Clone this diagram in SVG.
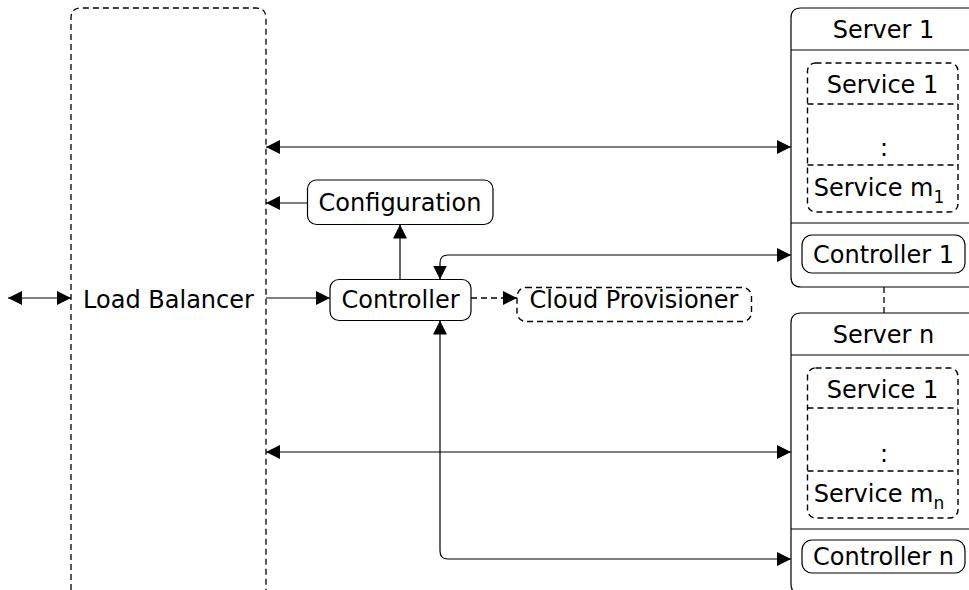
<svg xmlns="http://www.w3.org/2000/svg" width="969" height="590" viewBox="0 0 969 590">
<style>
text{font-family:"DejaVu Sans",sans-serif;font-size:24px;fill:#000;text-anchor:middle}
.box{fill:#fff;stroke:#000;stroke-width:1.2}
.dbox{fill:none;stroke:#000;stroke-width:1.4;stroke-dasharray:6 4}
.ln{fill:none;stroke:#000;stroke-width:1.2}
.dl{fill:none;stroke:#000;stroke-width:1.3;stroke-dasharray:6 4}
.sub{font-size:17px}
</style>
<defs>
<marker id="ah" viewBox="0 0 14 14" refX="14" refY="7" markerWidth="14" markerHeight="14" markerUnits="userSpaceOnUse" orient="auto-start-reverse">
<path d="M0,0 L14,7 L0,14 z" fill="#000"/>
</marker>
</defs>
<g id="loadbalancer">
<path class="dl" d="M71,600 V18 Q71,8 81,8 H256 Q266,8 266,18 V600"/>
<text x="168.5" y="308">Load Balancer</text>
</g>
<g id="configuration">
<rect class="box" x="307.5" y="180" width="185.5" height="44.5" rx="9"/>
<text x="400" y="211">Configuration</text>
</g>
<g id="controller">
<rect class="box" x="330" y="279.5" width="141" height="41" rx="9"/>
<text x="400.5" y="308">Controller</text>
</g>
<g id="cloudprovisioner">
<rect class="dbox" x="517" y="287.5" width="234.5" height="34" rx="9"/>
<text x="634" y="308">Cloud Provisioner</text>
</g>
<g id="server1">
<path class="box" d="M975,8 H801 Q791,8 791,18 V277 Q791,287 801,287 H975"/>
<line class="ln" x1="791" y1="50" x2="969" y2="50"/>
<line class="ln" x1="791" y1="223" x2="969" y2="223"/>
<text x="883.5" y="38">Server 1</text>
<rect class="dbox" x="807.5" y="63" width="150.5" height="149" rx="8"/>
<line class="dl" x1="807.5" y1="104" x2="958" y2="104"/>
<line class="dl" x1="807.5" y1="165" x2="958" y2="165"/>
<text x="882.5" y="93">Service 1</text>
<text x="884" y="156" font-size="34">:</text>
<text x="879" y="196">Service m<tspan class="sub" dy="7">1</tspan></text>
<rect class="box" x="802" y="235" width="163" height="38" rx="10"/>
<text x="883.5" y="263">Controller 1</text>
</g>
<g id="servern">
<path class="box" d="M975,313 H801 Q791,313 791,323 V584 Q791,594 801,594 H975"/>
<line class="ln" x1="791" y1="355" x2="969" y2="355"/>
<line class="ln" x1="791" y1="529" x2="969" y2="529"/>
<text x="883.5" y="343">Server n</text>
<rect class="dbox" x="807.5" y="368" width="150.5" height="150" rx="8"/>
<line class="dl" x1="807.5" y1="408" x2="958" y2="408"/>
<line class="dl" x1="807.5" y1="471" x2="958" y2="471"/>
<text x="882.5" y="398">Service 1</text>
<text x="884" y="462" font-size="34">:</text>
<text x="879" y="502">Service m<tspan class="sub" dy="7">n</tspan></text>
<rect class="box" x="802" y="540" width="163" height="33" rx="10"/>
<text x="883.5" y="565">Controller n</text>
</g>
<g id="connectors">
<line class="ln" x1="8" y1="298" x2="71" y2="298" marker-start="url(#ah)" marker-end="url(#ah)"/>
<line class="ln" x1="266" y1="147" x2="791" y2="147" marker-start="url(#ah)" marker-end="url(#ah)"/>
<line class="ln" x1="266" y1="452" x2="791" y2="452" marker-start="url(#ah)" marker-end="url(#ah)"/>
<line class="ln" x1="307.5" y1="203" x2="266" y2="203" marker-end="url(#ah)"/>
<line class="ln" x1="266" y1="298" x2="330" y2="298" marker-end="url(#ah)"/>
<line class="ln" x1="400" y1="279.5" x2="400" y2="224.5" marker-end="url(#ah)"/>
<line class="dl" x1="471" y1="298" x2="517" y2="298" marker-end="url(#ah)"/>
<path class="ln" d="M440,279.5 V263 Q440,255 448,255 H791" marker-start="url(#ah)" marker-end="url(#ah)"/>
<path class="ln" d="M440,320.5 V551 Q440,559 448,559 H791" marker-start="url(#ah)" marker-end="url(#ah)"/>
<line class="dl" x1="884" y1="287" x2="884" y2="313"/>
</g>
</svg>
